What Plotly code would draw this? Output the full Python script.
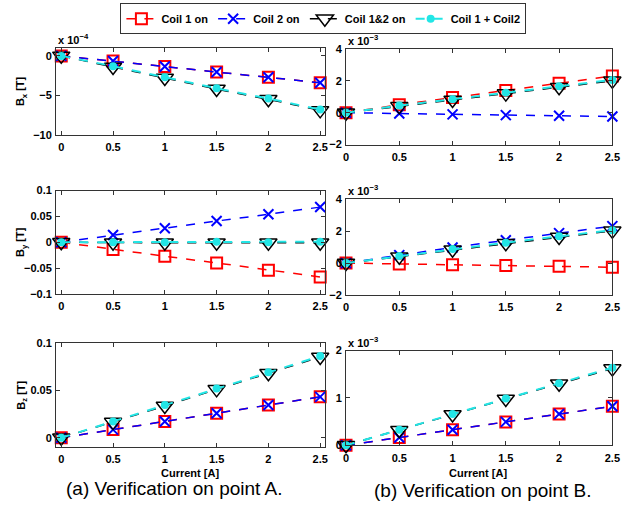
import plotly.graph_objects as go

current = [0, 0.5, 1, 1.5, 2, 2.5]
x_ticks = [0, 0.5, 1, 1.5, 2, 2.5]

# Point A
ax_c1 = [0, -0.65, -1.35, -2.05, -2.7, -3.4]      # x 1e-4
ax_c2 = [0, -0.65, -1.35, -2.05, -2.7, -3.4]
ax_c12 = [0, -1.4, -2.8, -4.2, -5.5, -6.9]
ax_sum = [0, -1.3, -2.7, -4.1, -5.4, -6.8]

ay_c1 = [0, -0.014, -0.027, -0.040, -0.054, -0.067]
ay_c2 = [0, 0.014, 0.027, 0.041, 0.054, 0.068]
ay_c12 = [0, -0.001, -0.001, -0.001, -0.001, -0.001]
ay_sum = [0, 0.0, 0.0, 0.001, 0.0, 0.001]

az_c1 = [0, 0.0086, 0.0172, 0.0259, 0.0345, 0.0431]
az_c2 = [0, 0.0086, 0.0172, 0.0259, 0.0345, 0.0431]
az_c12 = [0, 0.0165, 0.0335, 0.051, 0.068, 0.085]
az_sum = [0, 0.0172, 0.0345, 0.052, 0.069, 0.086]

# Point B
bx_c1 = [0, 0.5, 0.95, 1.4, 1.85, 2.3]            # x 1e-3
bx_c2 = [0, -0.05, -0.1, -0.15, -0.19, -0.24]
bx_c12 = [0, 0.4, 0.8, 1.2, 1.6, 2.0]
bx_sum = [0, 0.45, 0.85, 1.25, 1.66, 2.06]

by_c1 = [0, -0.06, -0.1, -0.15, -0.2, -0.26]      # x 1e-3
by_c2 = [0, 0.5, 0.98, 1.43, 1.88, 2.32]
by_c12 = [0, 0.4, 0.84, 1.24, 1.64, 2.02]
by_sum = [0, 0.44, 0.88, 1.28, 1.68, 2.06]

bz_c1 = [0, 0.165, 0.33, 0.495, 0.66, 0.825]      # x 1e-3
bz_c2 = [0, 0.165, 0.33, 0.495, 0.66, 0.825]
bz_c12 = [0, 0.32, 0.65, 0.98, 1.3, 1.62]
bz_sum = [0, 0.33, 0.66, 0.99, 1.31, 1.64]

series_names = ["Coil 1 on", "Coil 2 on", "Coil 1&2 on", "Coil 1 + Coil2"]

W, H = 641, 506
FONT = "Liberation Sans, Arial, sans-serif"

panels = [
    ([ax_c1, ax_c2, ax_c12, ax_sum], [-10, 1], [-10, -5, 0], "x 10<sup>−4</sup>", 54, 328, 43, 132, "B<sub>x</sub> [T]", [-0.05, 2.55]),
    ([bx_c1, bx_c2, bx_c12, bx_sum], [-2, 4], [-2, 0, 2, 4], "x 10<sup>−3</sup>", 349, 620, 44, 142, None, [0, 2.5]),
    ([ay_c1, ay_c2, ay_c12, ay_sum], [-0.1, 0.1], [-0.1, -0.05, 0, 0.05, 0.1], None, 54, 328, 189, 295, "B<sub>y</sub> [T]", [-0.05, 2.55]),
    ([by_c1, by_c2, by_c12, by_sum], [-2, 4], [-2, 0, 2, 4], "x 10<sup>−3</sup>", 349, 620, 198, 296, None, [0, 2.5]),
    ([az_c1, az_c2, az_c12, az_sum], [-0.01, 0.1], [0, 0.05, 0.1], None, 54, 328, 345, 452, "B<sub>z</sub> [T]", [-0.05, 2.55]),
    ([bz_c1, bz_c2, bz_c12, bz_sum], [0, 2], [0, 1, 2], "x 10<sup>−3</sup>", 349, 620, 353, 450, None, [0, 2.5]),
]

styles = [
    dict(line=dict(color="#FF0000", dash="dash", width=1.5),
         marker=dict(symbol="square-open", size=11, color="#FF0000", line=dict(width=2, color="#FF0000"))),
    dict(line=dict(color="#0000FF", dash="dash", width=1.5),
         marker=dict(symbol="x-thin", size=10, color="#0000FF", line=dict(width=2, color="#0000FF"))),
    dict(line=dict(color="#000000", dash="dash", width=1.5),
         marker=dict(symbol="triangle-down-open", size=15, color="#000000", line=dict(width=1.5, color="#000000"))),
    dict(line=dict(color="#22E6E6", dash="dash", width=2),
         marker=dict(symbol="circle", size=8, color="#22E6E6")),
]

fig = go.Figure()
annotations = []
tickfont = dict(family=FONT, size=11, color="#000000", weight="bold")

for i, (data, yr, yt, expo, l, r, t, b, ytitle, xr) in enumerate(panels):
    n = i + 1
    xa = "x" if n == 1 else f"x{n}"
    ya = "y" if n == 1 else f"y{n}"
    for k in range(4):
        fig.add_trace(go.Scatter(
            x=current, y=data[k], mode="lines+markers", name=series_names[k],
            xaxis=xa, yaxis=ya, showlegend=(n == 1), cliponaxis=False, **styles[k]))
    dom_x = [l / W, r / W]
    dom_y = [1 - b / H, 1 - t / H]
    common = dict(showline=True, linecolor="#333333", linewidth=1, mirror="ticks",
                  ticks="inside", ticklen=4, tickcolor="#333333", showgrid=False,
                  zeroline=False, tickfont=tickfont)
    fig.layout[f"xaxis{'' if n == 1 else n}"] = dict(
        domain=dom_x, range=xr, tickvals=x_ticks, anchor=ya, ticklabelstandoff=2, **common)
    fig.layout[f"yaxis{'' if n == 1 else n}"] = dict(
        domain=dom_y, range=yr, tickvals=yt, anchor=xa, ticklabelstandoff=1, **common)
    if expo:
        annotations.append(dict(text=expo, x=l / W, y=1 - t / H, xref="paper", yref="paper",
                                xanchor="left", yanchor="bottom", showarrow=False,
                                font=dict(family=FONT, size=11, color="#000000", weight="bold")))
    if ytitle:
        annotations.append(dict(text=ytitle, x=19 / W, y=1 - (t + b) / 2 / H, xref="paper", yref="paper",
                                textangle=-90, showarrow=False, xanchor="center", yanchor="middle",
                                font=dict(family=FONT, size=11, color="#000000", weight="bold")))

def label(text, px, py, size, bold):
    f = dict(family=FONT, size=size, color="#000000")
    if bold:
        f["weight"] = "bold"
    return dict(text=text, x=px / W, y=1 - py / H, xref="paper", yref="paper", showarrow=False,
                xanchor="center", yanchor="middle", font=f)

annotations += [
    label("Current [A]", 190, 478, 11, True),
    label("Current [A]", 483, 478, 11, True),
    label("(a) Verification on point A.", 174, 494, 19, False),
    label("(b) Verification on point B.", 488, 496, 19, False),
]

fig.update_layout(
    width=W, height=H, margin=dict(l=0, r=0, t=0, b=0),
    paper_bgcolor="white", plot_bgcolor="white",
    annotations=annotations,
    legend=dict(orientation="h", x=326 / W, y=1 - 13 / H, xanchor="center", yanchor="middle",
                bordercolor="#333333", borderwidth=1, bgcolor="white",
                font=dict(family=FONT, size=11, color="#000000", weight="bold"),
                itemwidth=30, tracegroupgap=0),
)

fig.write_html("out.html")
